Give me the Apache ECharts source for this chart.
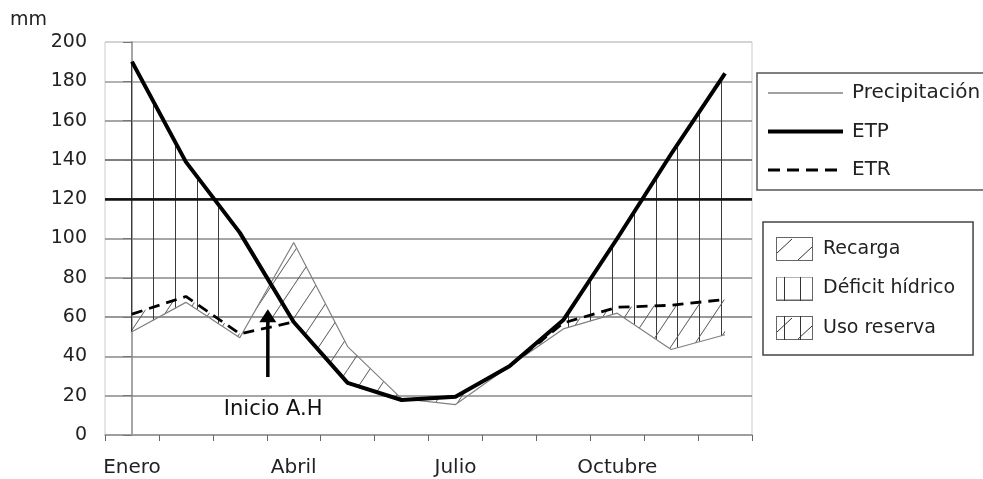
<!DOCTYPE html>
<html><head><meta charset="utf-8">
<script src="https://cdn.jsdelivr.net/npm/echarts@6/dist/echarts.min.js"></script>
<style>html,body{margin:0;padding:0;background:#fff}#c{width:983px;height:479px}</style>
</head><body><div id="c"></div>
<script>
// ---- data ----
const months = ['Enero','Febrero','Marzo','Abril','Mayo','Junio','Julio','Agosto','Septiembre','Octubre','Noviembre','Diciembre'];
const precipitacion = [52.5, 67.5, 49.5, 98, 45, 18.5, 15.5, 35, 54, 62, 43.5, 51];
const etp = [190, 139, 103, 57.5, 26.5, 17.8, 19.5, 35, 58.5, 100, 143, 184];
const etr = [61.5, 70.5, 51.5, 57.5, 26.5, 17.8, 19.5, 35, 57, 65, 66, 69];
const yMin = 0, yMax = 200, yInterval = 20;
const strongGridValues = [120];
const arrowAnnot = [[2.52, 29.5, 64]];   // x (month index), y start, y tip
const annotLabel = 'Inicio A.H';
const annotLabelPos = [2.62, 13.2];
const lineNames = ['Precipitación', 'ETP', 'ETR'];
const hatchNames = ['Recarga', 'Déficit hídrico', 'Uso reserva'];

const FONT = 'DejaVu Sans';

function makeDiagPattern(w, h, color) {
  const c = document.createElement('canvas'); c.width = w; c.height = h;
  const g = c.getContext('2d'); g.strokeStyle = color; g.lineWidth = 1;
  for (let n = 0; n <= 2; n++) {
    g.beginPath(); g.moveTo(-w, n * h + h); g.lineTo(2 * w, n * h - 2 * h); g.stroke();
  }
  return c;
}
const diagPattern = makeDiagPattern(22, 33, '#555');

function makeIcon(type) {
  const w = 37, h = 24;
  const c = document.createElement('canvas'); c.width = w; c.height = h;
  const g = c.getContext('2d');
  g.fillStyle = '#fff'; g.fillRect(0, 0, w, h);
  g.strokeStyle = '#666'; g.lineWidth = 1; g.strokeRect(0.5, 0.5, w - 1, h - 1);
  g.strokeStyle = '#333';
  if (type.indexOf('v') >= 0) {
    [8.5, 24.5].forEach(x => { g.beginPath(); g.moveTo(x, 0); g.lineTo(x, h); g.stroke(); });
  }
  if (type.indexOf('d') >= 0) {
    g.beginPath(); g.moveTo(1, 16); g.lineTo(16, 2); g.stroke();
    g.beginPath(); g.moveTo(22, 23); g.lineTo(36, 10); g.stroke();
  }
  return 'image://' + c.toDataURL();
}
function makeLineIcon(color, width, dash) {
  const w = 75, h = 20;
  const c = document.createElement('canvas'); c.width = w; c.height = h;
  const g = c.getContext('2d');
  g.strokeStyle = color; g.lineWidth = width;
  if (dash) g.setLineDash(dash);
  g.beginPath(); g.moveTo(0, h / 2); g.lineTo(w, h / 2); g.stroke();
  return 'image://' + c.toDataURL();
}
const hatchIcons = [makeIcon('d'), makeIcon('v'), makeIcon('vd')];
const lineIcons = [makeLineIcon('#808080', 1.3), makeLineIcon('#000', 4), makeLineIcon('#000', 3, [12, 7])];

function linePts(arr, api) { return arr.map((v, i) => api.coord([i, v])); }
function lerp(a, b, t) { return [a[0] + (b[0] - a[0]) * t, a[1] + (b[1] - a[1]) * t]; }

function diagRegion(api, top, bot) {
  const T = linePts(top, api), B = linePts(bot, api);
  const polys = [];
  for (let i = 0; i < top.length - 1; i++) {
    const d0 = top[i] - bot[i], d1 = top[i + 1] - bot[i + 1];
    if (d0 > 0 && d1 > 0) polys.push([T[i], T[i + 1], B[i + 1], B[i]]);
    else if (d0 > 0 && d1 <= 0) { const t = d0 / (d0 - d1); polys.push([T[i], lerp(T[i], T[i + 1], t), B[i]]); }
    else if (d0 <= 0 && d1 > 0) { const t = d0 / (d0 - d1); polys.push([lerp(T[i], T[i + 1], t), T[i + 1], B[i + 1]]); }
  }
  return {
    type: 'group',
    children: polys.map(p => ({ type: 'polygon', shape: { points: p }, style: { fill: { image: diagPattern, repeat: 'repeat' }, stroke: null } }))
  };
}

function deficitRender(params, api) {
  const E = linePts(etp, api), P = linePts(precipitacion, api);
  const cw = api.size([1, 0])[0];
  const step = cw * 0.4054;
  const children = [];
  const x0 = E[0][0], xN = E[E.length - 1][0];
  for (let x = x0 - 1; x <= xN + 1; x += step) {
    const xx = Math.min(Math.max(x, x0), xN);
    const i = Math.min(Math.floor((xx - x0) / cw), E.length - 2);
    if (!(etp[i] > precipitacion[i] && etp[i + 1] > precipitacion[i + 1])) continue;
    const t = (xx - E[i][0]) / cw;
    const yE = E[i][1] + t * (E[i + 1][1] - E[i][1]);
    const yP = P[i][1] + t * (P[i + 1][1] - P[i][1]);
    const px = Math.round(x) + 0.5;
    children.push({ type: 'line', shape: { x1: px, y1: yE, x2: px, y2: yP }, style: { stroke: '#3a3a3a', lineWidth: 1 } });
  }
  return { type: 'group', children };
}

function annotRender(params, api) {
  const x = api.value(0), y0 = api.value(1), y1 = api.value(2);
  const p0 = api.coord([x, y0]), p1 = api.coord([x, y1]);
  const lp = api.coord(annotLabelPos);
  return {
    type: 'group',
    children: [
      { type: 'line', shape: { x1: p0[0], y1: p0[1], x2: p1[0], y2: p1[1] + 11 }, style: { stroke: '#000', lineWidth: 3.5 } },
      { type: 'polygon', shape: { points: [[p1[0], p1[1]], [p1[0] - 8.5, p1[1] + 13], [p1[0] + 8.5, p1[1] + 13]] }, style: { fill: '#000' } },
      { type: 'text', x: lp[0], y: lp[1], style: { text: annotLabel, fill: '#111', fontSize: 21, fontFamily: FONT, align: 'center', verticalAlign: 'middle', textAlign: 'center', textVerticalAlign: 'middle' } }
    ]
  };
}

const chart = echarts.init(document.getElementById('c'), null, { renderer: 'canvas' });
chart.setOption({
  animation: false,
  backgroundColor: '#fff',
  grid: { left: 105, right: 231, top: 42, bottom: 44, show: true, borderColor: '#ccc', borderWidth: 1, containLabel: false, outerBoundsMode: 'none' },
  legend: [
    {
      data: lineNames.map((n, i) => ({ name: n, icon: lineIcons[i] })), orient: 'vertical', left: 757, top: 73, selectedMode: false,
      padding: [10, 12, 10, 11], itemGap: 18.5, itemWidth: 75, itemHeight: 20,
      borderColor: '#555', borderWidth: 1.5,
      textStyle: { fontFamily: FONT, fontSize: 20, color: '#222', padding: [0, 0, 0, 4] }
    },
    {
      data: hatchNames.map((n, i) => ({ name: n, icon: hatchIcons[i] })), orient: 'vertical', left: 763, top: 222, selectedMode: false,
      padding: [15, 18, 15, 13], itemGap: 15.5, itemWidth: 37, itemHeight: 24,
      borderColor: '#444', borderWidth: 1.5,
      textStyle: { fontFamily: FONT, fontSize: 19, color: '#222', padding: [0, 0, 0, 5] }
    }
  ],
  xAxis: [
    {
      type: 'category', data: months, boundaryGap: true,
      axisLine: { lineStyle: { color: '#999', width: 1.5 } },
      axisTick: { show: true, interval: 0, length: 6, lineStyle: { color: '#666' } },
      axisLabel: { interval: 2, margin: 23, fontFamily: FONT, fontSize: 20, color: '#222' },
      splitLine: { show: false }
    },
    { type: 'value', min: -0.5, max: 11.5, show: false }
  ],
  yAxis: {
    type: 'value', min: yMin, max: yMax, interval: yInterval,
    name: 'mm', nameLocation: 'end', nameGap: 12,
    nameTextStyle: { fontFamily: FONT, fontSize: 19, color: '#222', align: 'right', padding: [0, 85, 0, 0] },
    axisLine: { show: true, lineStyle: { color: '#888', width: 1.5 } },
    axisTick: { show: true, length: 9, lineStyle: { color: '#777' } },
    axisLabel: { margin: 18, fontFamily: FONT, fontSize: 19, color: '#222' },
    splitLine: { show: true, lineStyle: { color: ['#999', '#888', '#888', '#777', '#888', '#888', '#111', '#555', '#888', '#999', '#ccc'], width: 1.5 } }
  },
  series: [
    { name: 'Déficit hídrico', type: 'custom', z: 1, silent: true, renderItem: deficitRender, data: [[0]], itemStyle: { color: '#444' } },
    { name: 'Recarga', type: 'custom', z: 1, silent: true, renderItem: (p, api) => diagRegion(api, precipitacion, etr), data: [[0]], itemStyle: { color: '#444' } },
    { name: 'Uso reserva', type: 'custom', z: 1, silent: true, renderItem: (p, api) => diagRegion(api, etr, precipitacion), data: [[0]], itemStyle: { color: '#444' } },
    { name: 'Precipitación', type: 'line', z: 3, data: precipitacion, symbol: 'none', lineStyle: { color: '#808080', width: 1.2 }, itemStyle: { color: '#808080' } },
    { name: 'ETR', type: 'line', z: 4, data: etr, symbol: 'none', lineStyle: { color: '#000', width: 2.8, type: [11, 7] }, itemStyle: { color: '#000' } },
    {
      name: 'ETP', type: 'line', z: 5, data: etp, symbol: 'none', lineStyle: { color: '#000', width: 4, join: 'round' }, itemStyle: { color: '#000' },
      markLine: { silent: true, symbol: ['none', 'none'], label: { show: false }, lineStyle: { color: '#111', width: 2.5, type: 'solid' }, data: strongGridValues.map(v => ({ yAxis: v })) }
    },
    { name: 'annot', type: 'custom', z: 6, silent: true, xAxisIndex: 1, yAxisIndex: 0, renderItem: annotRender, data: arrowAnnot }
  ]
});
</script>
</body></html>
